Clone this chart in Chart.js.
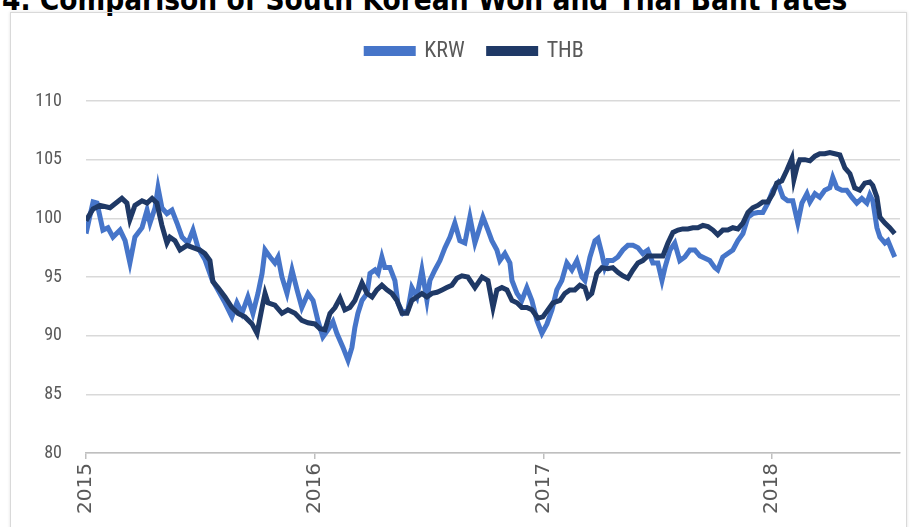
<!DOCTYPE html>
<html>
<head>
<meta charset="utf-8">
<script src="https://cdn.jsdelivr.net/npm/chart.js@4.4.1/dist/chart.umd.min.js"></script>
<style>
  html, body { margin: 0; padding: 0; background: #fff; overflow: hidden; }
  #title { position: absolute; left: 2px; top: -17px; white-space: nowrap;
           font: bold 29.5px "DejaVu Sans Condensed", "DejaVu Sans", sans-serif; color: #000; }
  #frame { position: absolute; left: 10px; top: 12px; width: 895px; height: 540px;
           border: 1px solid #d9d9d9; box-shadow: 0 0 3px rgba(0,0,0,0.12); }
  #wrap { position: absolute; left: 0; top: 0; width: 910px; height: 527px; }
</style>
</head>
<body>
<div id="title">4. Comparison of South Korean Won and Thai Baht rates</div>
<div id="frame"></div>
<div id="wrap"><canvas id="fx"></canvas></div>
<script>
// dates as decimal years, values are index levels
const yearTicks = [2015, 2016, 2017, 2018];

const krwDates = [
  2015.000,2015.017,2015.031,2015.048,2015.074,2015.096,2015.118,2015.149,2015.171,2015.192,
  2015.214,2015.245,2015.267,2015.280,2015.302,2015.315,2015.332,2015.354,2015.376,2015.398,
  2015.420,2015.446,2015.468,2015.490,2015.520,2015.551,2015.577,2015.608,2015.638,2015.660,
  2015.682,2015.708,2015.730,2015.752,2015.770,2015.783,2015.805,2015.826,2015.840,2015.857,
  2015.879,2015.901,2015.923,2015.944,2015.971,2015.993,2016.014,2016.036,2016.058,2016.080,
  2016.097,2016.124,2016.146,2016.163,2016.176,2016.189,2016.207,2016.229,2016.242,2016.264,
  2016.277,2016.294,2016.307,2016.329,2016.351,2016.364,2016.386,2016.408,2016.425,2016.447,
  2016.469,2016.491,2016.504,2016.526,2016.548,2016.570,2016.592,2016.613,2016.635,2016.657,
  2016.679,2016.701,2016.714,2016.736,2016.758,2016.775,2016.797,2016.810,2016.832,2016.854,
  2016.863,2016.885,2016.906,2016.928,2016.950,2016.972,2016.994,2017.016,2017.038,2017.059,
  2017.081,2017.103,2017.125,2017.147,2017.169,2017.182,2017.204,2017.226,2017.239,2017.256,
  2017.269,2017.282,2017.304,2017.326,2017.348,2017.370,2017.392,2017.414,2017.435,2017.457,
  2017.479,2017.501,2017.519,2017.532,2017.554,2017.575,2017.597,2017.619,2017.641,2017.663,
  2017.685,2017.707,2017.728,2017.750,2017.763,2017.785,2017.807,2017.829,2017.851,2017.873,
  2017.895,2017.916,2017.938,2017.960,2017.982,2018.004,2018.026,2018.048,2018.069,2018.091,
  2018.113,2018.131,2018.153,2018.166,2018.188,2018.209,2018.231,2018.253,2018.266,2018.284,
  2018.306,2018.327,2018.349,2018.371,2018.393,2018.415,2018.428,2018.441,2018.459,2018.472,
  2018.494,2018.507,2018.524,2018.537
];
const krwValues = [
  98.7,100.2,101.4,101.3,99.0,99.2,98.4,99.0,98.1,96.2,
  98.4,99.2,100.7,99.6,100.9,102.6,100.9,100.4,100.7,99.6,
  98.4,97.9,99.0,97.5,96.5,94.8,93.9,92.8,91.6,92.8,
  91.9,93.3,91.9,93.6,95.3,97.3,96.7,96.2,96.7,95.0,
  93.6,95.6,93.9,92.4,93.6,93.0,91.3,89.9,90.5,91.2,
  90.2,89.0,87.9,89.0,90.7,91.9,93.0,93.6,95.3,95.6,
  95.3,96.7,95.8,95.8,94.7,92.8,91.9,92.2,94.1,93.3,
  95.6,93.0,94.7,95.6,96.4,97.5,98.4,99.6,98.1,97.9,
  100.1,97.9,98.7,100.1,99.0,98.1,97.3,96.4,97.0,96.2,
  94.7,93.6,93.0,94.1,93.0,91.3,90.2,91.0,92.2,93.9,
  94.7,96.2,95.6,96.4,95.0,94.7,96.7,98.1,98.3,97.0,
  95.8,96.4,96.4,96.7,97.3,97.7,97.7,97.5,97.0,97.3,
  96.2,96.2,94.7,95.8,97.3,97.9,96.4,96.7,97.3,97.3,
  96.8,96.6,96.4,95.8,95.6,96.7,97.0,97.3,98.1,98.7,
  100.1,100.4,100.5,100.5,101.3,102.4,103.0,101.8,101.5,101.5,
  99.6,101.3,102.1,101.4,102.1,101.8,102.4,102.6,103.5,102.6,
  102.4,102.4,101.8,101.3,101.7,101.3,102.0,101.5,99.2,98.4,
  97.9,98.1,97.3,96.7
];

const thbDates = [
  2015.000,2015.031,2015.061,2015.105,2015.157,2015.179,2015.192,2015.214,2015.245,2015.267,
  2015.289,2015.310,2015.332,2015.354,2015.367,2015.389,2015.411,2015.442,2015.468,2015.498,
  2015.520,2015.542,2015.555,2015.577,2015.608,2015.638,2015.665,2015.695,2015.726,2015.748,
  2015.770,2015.783,2015.796,2015.826,2015.857,2015.883,2015.914,2015.944,2015.971,2016.001,
  2016.023,2016.045,2016.067,2016.089,2016.111,2016.132,2016.154,2016.176,2016.207,2016.229,
  2016.251,2016.272,2016.294,2016.316,2016.338,2016.360,2016.382,2016.404,2016.425,2016.447,
  2016.469,2016.491,2016.513,2016.535,2016.557,2016.578,2016.600,2016.622,2016.644,2016.670,
  2016.701,2016.732,2016.758,2016.780,2016.797,2016.819,2016.841,2016.863,2016.885,2016.906,
  2016.928,2016.950,2016.976,2016.998,2017.020,2017.042,2017.073,2017.094,2017.116,2017.138,
  2017.160,2017.182,2017.195,2017.212,2017.234,2017.256,2017.282,2017.304,2017.326,2017.348,
  2017.370,2017.392,2017.414,2017.435,2017.457,2017.479,2017.501,2017.523,2017.545,2017.567,
  2017.589,2017.610,2017.632,2017.654,2017.676,2017.698,2017.720,2017.742,2017.763,2017.785,
  2017.807,2017.829,2017.851,2017.873,2017.895,2017.916,2017.938,2017.960,2017.982,2018.004,
  2018.021,2018.043,2018.065,2018.087,2018.096,2018.110,2018.122,2018.144,2018.166,2018.188,
  2018.209,2018.231,2018.253,2018.275,2018.297,2018.319,2018.341,2018.362,2018.384,2018.406,
  2018.428,2018.441,2018.459,2018.472,2018.494,2018.515,2018.537
];
const thbValues = [
  99.8,100.8,101.1,100.9,101.7,101.3,99.9,101.1,101.5,101.3,
  101.7,101.3,99.4,97.9,98.4,98.1,97.3,97.7,97.5,97.3,
  97.0,96.4,94.6,94.1,93.3,92.4,91.9,91.6,91.0,90.2,
  92.4,93.6,92.8,92.6,91.9,92.2,91.9,91.3,91.1,91.0,
  90.6,90.5,91.9,92.4,93.2,92.2,92.4,93.0,94.5,93.6,
  93.3,93.9,94.3,93.9,93.6,93.0,91.9,91.9,93.0,93.3,
  93.6,93.3,93.6,93.7,93.9,94.1,94.3,94.9,95.1,95.0,
  94.1,95.0,94.7,92.4,93.9,94.1,93.9,93.0,92.8,92.4,
  92.4,92.2,91.5,91.6,92.2,92.8,93.0,93.6,93.9,93.9,
  94.3,94.1,93.3,93.6,95.3,95.8,95.7,95.8,95.4,95.1,
  94.9,95.6,96.2,96.4,96.8,96.8,96.8,96.8,97.9,98.8,
  99.0,99.1,99.1,99.2,99.2,99.4,99.3,99.0,98.6,99.0,
  99.0,99.2,99.1,99.6,100.5,100.9,101.1,101.4,101.4,102.1,
  103.0,103.2,104.1,105.1,103.3,104.4,105.0,105.0,104.9,105.3,
  105.5,105.5,105.6,105.5,105.4,104.3,103.8,102.6,102.4,103.0,
  103.1,102.8,101.8,100.1,99.6,99.2,98.7
];

const krwColor = '#4675c9';
const thbColor = '#1f3966';
const tickColor = '#595959';
const labelFont = "'Roboto Condensed', Carlito, sans-serif";

function toPoints(dates, values) {
  return dates.map((d, i) => ({ x: d, y: values[i] }));
}

// push plot area below the legend and centre the legend like the original
const legendTweak = {
  id: 'legendTweak',
  beforeInit(chart) {
    const fit = chart.legend.fit;
    chart.legend.fit = function () {
      fit.bind(chart.legend)();
      this.height += 29;
    };
  },
  afterLayout(chart) {
    chart.legend.left = 50;
  }
};

const fx = new Chart('fx', {
  type: 'line',
  data: {
    datasets: [{
      label: 'KRW',
      data: toPoints(krwDates, krwValues),
      borderColor: krwColor,
      backgroundColor: krwColor,
      borderWidth: 5,
      pointRadius: 0,
      order: 1
    }, {
      label: 'THB',
      data: toPoints(thbDates, thbValues),
      borderColor: thbColor,
      backgroundColor: thbColor,
      borderWidth: 5,
      pointRadius: 0,
      order: 0
    }]
  },
  options: {
    responsive: true,
    maintainAspectRatio: false,
    animation: false,
    layout: { padding: { left: 10, right: 10, top: 16, bottom: 0 } },
    plugins: {
      legend: {
        position: 'top',
        labels: {
          boxWidth: 47,
          boxHeight: 5,
          padding: 24,
          color: tickColor,
          font: { family: labelFont, size: 22 },
          sort: (a, b) => a.datasetIndex - b.datasetIndex
        }
      },
      tooltip: { enabled: false }
    },
    scales: {
      x: {
        type: 'linear',
        min: 2015,
        max: 2018.56,
        afterBuildTicks: s => { s.ticks = yearTicks.map(v => ({ value: v })); },
        afterFit: s => { s.height = 74; },
        ticks: {
          minRotation: 90,
          maxRotation: 90,
          padding: 4,
          color: tickColor,
          font: { family: "'DejaVu Sans', sans-serif", size: 20 },
          callback: v => String(v)
        },
        grid: { drawOnChartArea: false, drawTicks: true, tickLength: 6, color: '#bfbfbf', lineWidth: 1.5 },
        border: { display: true, color: '#bfbfbf', width: 1.5 }
      },
      y: {
        min: 80,
        max: 110,
        afterFit: s => { s.width = 76; },
        ticks: {
          stepSize: 5,
          padding: 24,
          color: tickColor,
          font: { family: labelFont, size: 18 }
        },
        grid: { drawTicks: false, color: '#d9d9d9', lineWidth: 1.5 },
        border: { display: false }
      }
    }
  },
  plugins: [legendTweak]
});
</script>
</body>
</html>
